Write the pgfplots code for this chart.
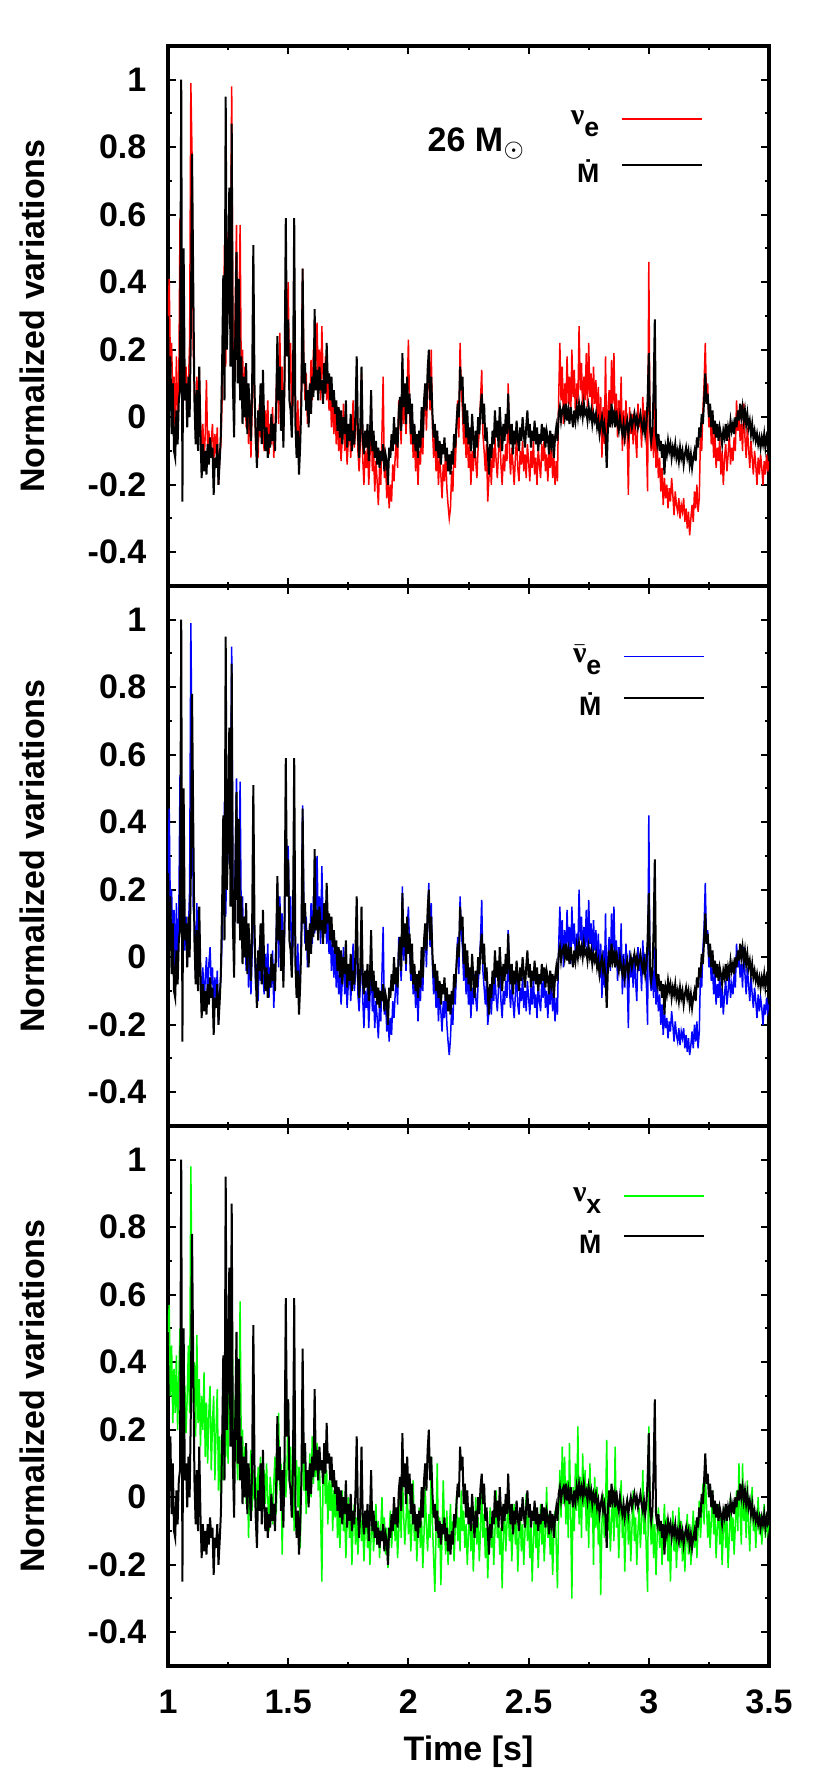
\documentclass[border=0pt]{standalone}
\usepackage{pgfplots}
\usepackage{pgfplotstable}
\pgfplotsset{compat=1.18}
\usepackage{fontspec}
\setmainfont{Liberation Sans}
\newfontfamily\nufont{Liberation Serif}

% mass accretion rate (same curve in all three panels)
\pgfplotstableread[row sep=\\]{t y\\
1.000 0.15\\ 1.005 0.05\\ 1.010 0.18\\ 1.015 -0.05\\ 1.020 0.10\\ 1.025 -0.10\\ 1.030 -0.12\\ 1.035 0.02\\ 1.040 -0.08\\ 1.045 0.05\\
1.050 0.08\\ 1.055 1.00\\ 1.060 -0.25\\ 1.065 0.50\\ 1.070 0.05\\ 1.075 0.10\\ 1.080 -0.03\\ 1.085 0.12\\ 1.090 0.00\\ 1.095 0.25\\
1.100 0.78\\ 1.105 0.40\\ 1.110 0.05\\ 1.115 -0.08\\ 1.120 0.08\\ 1.125 -0.10\\ 1.130 0.15\\ 1.135 -0.05\\ 1.140 -0.18\\ 1.145 -0.08\\
1.150 -0.16\\ 1.155 -0.10\\ 1.160 -0.17\\ 1.165 -0.08\\ 1.170 -0.14\\ 1.175 -0.06\\ 1.180 -0.12\\ 1.185 -0.09\\ 1.190 -0.23\\ 1.195 -0.12\\
1.200 -0.15\\ 1.205 -0.08\\ 1.210 -0.20\\ 1.215 -0.13\\ 1.220 -0.05\\ 1.225 0.15\\ 1.230 0.42\\ 1.235 0.05\\ 1.240 0.95\\ 1.245 0.20\\
1.250 0.35\\ 1.255 0.68\\ 1.260 0.15\\ 1.265 0.87\\ 1.270 0.10\\ 1.275 -0.06\\ 1.280 0.25\\ 1.285 0.49\\ 1.290 0.10\\ 1.295 0.41\\
1.300 0.05\\ 1.305 0.18\\ 1.310 -0.02\\ 1.315 0.12\\ 1.320 0.00\\ 1.325 0.16\\ 1.330 -0.05\\ 1.335 0.10\\ 1.340 0.02\\ 1.345 -0.07\\
1.350 0.09\\ 1.355 0.51\\ 1.360 0.08\\ 1.365 -0.06\\ 1.370 -0.15\\ 1.375 0.02\\ 1.380 -0.04\\ 1.385 0.10\\ 1.390 -0.08\\ 1.395 0.14\\
1.400 -0.02\\ 1.405 -0.10\\ 1.410 -0.03\\ 1.415 -0.12\\ 1.420 -0.05\\ 1.425 -0.09\\ 1.430 0.01\\ 1.435 -0.07\\ 1.440 -0.02\\ 1.445 -0.10\\
1.450 0.03\\ 1.455 0.24\\ 1.460 0.05\\ 1.465 0.15\\ 1.470 -0.04\\ 1.475 0.08\\ 1.480 -0.09\\ 1.485 0.12\\ 1.490 0.59\\ 1.495 0.18\\
1.500 0.29\\ 1.505 0.05\\ 1.510 0.02\\ 1.515 -0.06\\ 1.520 0.10\\ 1.525 0.59\\ 1.530 -0.02\\ 1.535 -0.12\\ 1.540 -0.04\\ 1.545 -0.17\\
1.550 -0.08\\ 1.555 0.05\\ 1.560 0.44\\ 1.565 0.10\\ 1.570 0.16\\ 1.575 0.02\\ 1.580 0.08\\ 1.585 -0.03\\ 1.590 0.10\\ 1.595 0.01\\
1.600 0.12\\ 1.605 0.06\\ 1.610 0.32\\ 1.615 0.08\\ 1.620 0.14\\ 1.625 0.05\\ 1.630 0.15\\ 1.635 0.08\\ 1.640 0.11\\ 1.645 0.04\\
1.650 0.16\\ 1.655 0.07\\ 1.660 0.22\\ 1.665 0.10\\ 1.670 0.13\\ 1.675 0.05\\ 1.680 0.12\\ 1.685 0.03\\ 1.690 0.08\\ 1.695 0.01\\
1.700 0.05\\ 1.705 -0.04\\ 1.710 0.03\\ 1.715 -0.06\\ 1.720 0.02\\ 1.725 -0.08\\ 1.730 0.00\\ 1.735 -0.05\\ 1.740 0.05\\ 1.745 -0.09\\
1.750 -0.02\\ 1.755 -0.07\\ 1.760 0.01\\ 1.765 -0.10\\ 1.770 -0.04\\ 1.775 -0.08\\ 1.780 0.02\\ 1.785 0.18\\ 1.790 -0.05\\ 1.795 -0.12\\
1.800 -0.03\\ 1.805 0.15\\ 1.810 -0.06\\ 1.815 -0.11\\ 1.820 -0.04\\ 1.825 -0.09\\ 1.830 -0.02\\ 1.835 -0.13\\ 1.840 -0.06\\ 1.845 0.08\\
1.850 -0.10\\ 1.855 -0.04\\ 1.860 -0.12\\ 1.865 -0.07\\ 1.870 -0.14\\ 1.875 -0.09\\ 1.880 -0.15\\ 1.885 -0.10\\ 1.890 -0.13\\ 1.895 -0.08\\
1.900 -0.16\\ 1.905 -0.11\\ 1.910 -0.13\\ 1.915 -0.20\\ 1.920 -0.09\\ 1.925 -0.12\\ 1.930 -0.05\\ 1.935 -0.10\\ 1.940 0.00\\ 1.945 -0.08\\
1.950 -0.03\\ 1.955 -0.09\\ 1.960 0.02\\ 1.965 0.06\\ 1.970 -0.04\\ 1.975 0.19\\ 1.980 0.03\\ 1.985 0.10\\ 1.990 -0.02\\ 1.995 0.12\\
2.000 0.01\\ 2.005 0.07\\ 2.010 -0.05\\ 2.015 0.04\\ 2.020 -0.08\\ 2.025 -0.02\\ 2.030 -0.10\\ 2.035 -0.05\\ 2.040 -0.12\\ 2.045 -0.04\\
2.050 -0.09\\ 2.055 0.03\\ 2.060 -0.06\\ 2.065 0.05\\ 2.070 0.10\\ 2.075 0.02\\ 2.080 0.14\\ 2.085 0.20\\ 2.090 0.05\\ 2.095 0.12\\
2.100 0.01\\ 2.105 -0.06\\ 2.110 -0.02\\ 2.115 -0.10\\ 2.120 -0.04\\ 2.125 -0.12\\ 2.130 -0.07\\ 2.135 -0.14\\ 2.140 -0.08\\ 2.145 -0.11\\
2.150 -0.06\\ 2.155 -0.13\\ 2.160 -0.09\\ 2.165 -0.16\\ 2.170 -0.11\\ 2.175 -0.17\\ 2.180 -0.10\\ 2.185 -0.14\\ 2.190 -0.05\\ 2.195 -0.09\\
2.200 -0.02\\ 2.205 0.04\\ 2.210 0.00\\ 2.215 0.15\\ 2.220 0.08\\ 2.225 0.12\\ 2.230 -0.02\\ 2.235 0.04\\ 2.240 -0.06\\ 2.245 0.02\\
2.250 -0.08\\ 2.255 -0.03\\ 2.260 -0.10\\ 2.265 0.01\\ 2.270 -0.06\\ 2.275 -0.12\\ 2.280 -0.04\\ 2.285 -0.09\\ 2.290 0.00\\ 2.295 -0.05\\
2.300 0.03\\ 2.305 0.07\\ 2.310 -0.02\\ 2.315 0.04\\ 2.320 -0.07\\ 2.325 -0.03\\ 2.330 -0.10\\ 2.335 -0.17\\ 2.340 -0.08\\ 2.345 -0.12\\
2.350 -0.04\\ 2.355 -0.08\\ 2.360 0.02\\ 2.365 -0.06\\ 2.370 -0.01\\ 2.375 -0.09\\ 2.380 0.03\\ 2.385 -0.04\\ 2.390 -0.10\\ 2.395 -0.02\\
2.400 -0.07\\ 2.405 0.01\\ 2.410 -0.05\\ 2.415 0.07\\ 2.420 -0.03\\ 2.425 -0.08\\ 2.430 -0.02\\ 2.435 -0.11\\ 2.440 -0.04\\ 2.445 -0.08\\
2.450 -0.01\\ 2.455 -0.06\\ 2.460 -0.10\\ 2.465 -0.03\\ 2.470 -0.07\\ 2.475 0.00\\ 2.480 -0.05\\ 2.485 -0.09\\ 2.490 -0.03\\ 2.495 0.02\\
2.500 -0.06\\ 2.505 -0.02\\ 2.510 -0.09\\ 2.515 -0.04\\ 2.520 -0.07\\ 2.525 -0.01\\ 2.530 -0.08\\ 2.535 -0.03\\ 2.540 -0.10\\ 2.545 -0.05\\
2.550 -0.08\\ 2.555 -0.02\\ 2.560 -0.07\\ 2.565 -0.03\\ 2.570 -0.09\\ 2.575 -0.04\\ 2.580 -0.06\\ 2.585 -0.11\\ 2.590 -0.04\\ 2.595 -0.08\\
2.600 -0.05\\ 2.605 -0.12\\ 2.610 -0.06\\ 2.615 -0.03\\ 2.620 -0.07\\ 2.625 0.01\\ 2.630 0.03\\ 2.635 -0.01\\ 2.640 0.02\\ 2.645 0.03\\
2.650 0.00\\ 2.655 0.04\\ 2.660 -0.01\\ 2.665 0.02\\ 2.670 -0.02\\ 2.675 0.03\\ 2.680 0.00\\ 2.685 -0.03\\ 2.690 0.02\\ 2.695 -0.01\\
2.700 0.03\\ 2.705 0.00\\ 2.710 0.04\\ 2.715 0.01\\ 2.720 0.03\\ 2.725 0.00\\ 2.730 0.04\\ 2.735 0.01\\ 2.740 0.02\\ 2.745 -0.01\\
2.750 0.03\\ 2.755 0.00\\ 2.760 0.02\\ 2.765 -0.02\\ 2.770 0.01\\ 2.775 -0.01\\ 2.780 0.01\\ 2.785 -0.03\\ 2.790 -0.01\\ 2.795 -0.05\\
2.800 -0.02\\ 2.805 0.00\\ 2.810 -0.04\\ 2.815 -0.02\\ 2.820 -0.06\\ 2.825 -0.15\\ 2.830 -0.03\\ 2.835 0.02\\ 2.840 -0.03\\ 2.845 0.04\\
2.850 -0.01\\ 2.855 0.01\\ 2.860 -0.03\\ 2.865 0.02\\ 2.870 -0.02\\ 2.875 -0.04\\ 2.880 0.00\\ 2.885 -0.03\\ 2.890 -0.05\\ 2.895 -0.02\\
2.900 -0.06\\ 2.905 -0.03\\ 2.910 -0.01\\ 2.915 -0.05\\ 2.920 -0.02\\ 2.925 0.00\\ 2.930 -0.03\\ 2.935 -0.01\\ 2.940 0.01\\ 2.945 -0.02\\
2.950 0.00\\ 2.955 -0.03\\ 2.960 -0.01\\ 2.965 0.01\\ 2.970 -0.02\\ 2.975 -0.04\\ 2.980 -0.01\\ 2.985 -0.05\\ 2.990 -0.02\\ 2.995 0.05\\
3.000 0.19\\ 3.005 -0.03\\ 3.010 -0.07\\ 3.015 -0.04\\ 3.020 0.08\\ 3.025 0.29\\ 3.030 -0.05\\ 3.035 -0.08\\ 3.040 -0.05\\ 3.045 -0.10\\
3.050 -0.07\\ 3.055 -0.12\\ 3.060 -0.08\\ 3.065 -0.17\\ 3.070 -0.09\\ 3.075 -0.11\\ 3.080 -0.07\\ 3.085 -0.10\\ 3.090 -0.08\\ 3.095 -0.12\\
3.100 -0.09\\ 3.105 -0.11\\ 3.110 -0.08\\ 3.115 -0.12\\ 3.120 -0.10\\ 3.125 -0.13\\ 3.130 -0.09\\ 3.135 -0.12\\ 3.140 -0.10\\ 3.145 -0.14\\
3.150 -0.11\\ 3.155 -0.09\\ 3.160 -0.12\\ 3.165 -0.10\\ 3.170 -0.14\\ 3.175 -0.11\\ 3.180 -0.15\\ 3.185 -0.12\\ 3.190 -0.10\\ 3.195 -0.13\\
3.200 -0.06\\ 3.205 -0.09\\ 3.210 -0.03\\ 3.215 -0.06\\ 3.220 0.01\\ 3.225 -0.02\\ 3.230 0.05\\ 3.235 0.13\\ 3.240 0.04\\ 3.245 0.07\\
3.250 0.00\\ 3.255 0.04\\ 3.260 -0.03\\ 3.265 0.02\\ 3.270 -0.05\\ 3.275 -0.01\\ 3.280 -0.06\\ 3.285 -0.02\\ 3.290 -0.07\\ 3.295 -0.03\\
3.300 -0.05\\ 3.305 -0.08\\ 3.310 -0.04\\ 3.315 -0.06\\ 3.320 -0.02\\ 3.325 -0.07\\ 3.330 -0.03\\ 3.335 -0.05\\ 3.340 -0.01\\ 3.345 -0.04\\
3.350 -0.02\\ 3.355 -0.05\\ 3.360 0.00\\ 3.365 -0.03\\ 3.370 0.02\\ 3.375 -0.01\\ 3.380 0.04\\ 3.385 0.00\\ 3.390 0.03\\ 3.395 -0.01\\
3.400 0.02\\ 3.405 -0.02\\ 3.410 0.01\\ 3.415 -0.03\\ 3.420 -0.01\\ 3.425 -0.05\\ 3.430 -0.02\\ 3.435 -0.06\\ 3.440 -0.04\\ 3.445 -0.07\\
3.450 -0.05\\ 3.455 -0.08\\ 3.460 -0.06\\ 3.465 -0.09\\ 3.470 -0.06\\ 3.475 -0.08\\ 3.480 -0.05\\ 3.485 -0.09\\ 3.490 -0.06\\ 3.495 -0.08\\
3.500 -0.07\\
}\mdot

% electron neutrinos
\pgfplotstableread[row sep=\\]{t y\\
1.000 0.30\\ 1.005 0.41\\ 1.010 0.15\\ 1.015 0.22\\ 1.020 0.05\\ 1.025 0.12\\ 1.030 -0.05\\ 1.035 0.18\\ 1.040 0.02\\ 1.045 0.10\\
1.050 0.59\\ 1.055 0.25\\ 1.060 0.45\\ 1.065 0.20\\ 1.070 0.05\\ 1.075 0.15\\ 1.080 0.00\\ 1.085 0.10\\ 1.090 0.22\\ 1.095 0.99\\
1.100 0.78\\ 1.105 0.20\\ 1.110 0.08\\ 1.115 -0.05\\ 1.120 0.12\\ 1.125 0.03\\ 1.130 0.14\\ 1.135 -0.02\\ 1.140 -0.10\\ 1.145 -0.02\\
1.150 -0.14\\ 1.155 -0.05\\ 1.160 0.11\\ 1.165 -0.10\\ 1.170 -0.04\\ 1.175 -0.12\\ 1.180 -0.07\\ 1.185 -0.02\\ 1.190 -0.14\\ 1.195 -0.05\\
1.200 -0.11\\ 1.205 -0.03\\ 1.210 -0.20\\ 1.215 -0.12\\ 1.220 -0.08\\ 1.225 0.05\\ 1.230 0.20\\ 1.235 0.51\\ 1.240 0.15\\ 1.245 0.35\\
1.250 0.55\\ 1.255 0.30\\ 1.260 0.45\\ 1.265 0.98\\ 1.270 0.20\\ 1.275 0.08\\ 1.280 0.35\\ 1.285 0.57\\ 1.290 0.12\\ 1.295 0.30\\
1.300 0.57\\ 1.305 0.10\\ 1.310 0.20\\ 1.315 0.02\\ 1.320 0.15\\ 1.325 -0.03\\ 1.330 0.10\\ 1.335 -0.08\\ 1.340 0.05\\ 1.345 -0.12\\
1.350 0.02\\ 1.355 0.27\\ 1.360 0.05\\ 1.365 -0.08\\ 1.370 -0.03\\ 1.375 -0.12\\ 1.380 0.04\\ 1.385 -0.06\\ 1.390 0.07\\ 1.395 -0.04\\
1.400 -0.10\\ 1.405 0.02\\ 1.410 -0.07\\ 1.415 0.05\\ 1.420 -0.11\\ 1.425 -0.02\\ 1.430 -0.08\\ 1.435 0.03\\ 1.440 -0.12\\ 1.445 -0.04\\
1.450 0.06\\ 1.455 0.20\\ 1.460 -0.02\\ 1.465 0.25\\ 1.470 0.08\\ 1.475 0.15\\ 1.480 -0.05\\ 1.485 0.10\\ 1.490 0.40\\ 1.495 0.28\\
1.500 0.40\\ 1.505 0.10\\ 1.510 0.22\\ 1.515 -0.04\\ 1.520 0.06\\ 1.525 0.22\\ 1.530 0.02\\ 1.535 -0.08\\ 1.540 0.05\\ 1.545 -0.12\\
1.550 -0.03\\ 1.555 0.10\\ 1.560 0.44\\ 1.565 0.15\\ 1.570 0.05\\ 1.575 0.13\\ 1.580 -0.02\\ 1.585 0.08\\ 1.590 0.02\\ 1.595 0.17\\
1.600 0.05\\ 1.605 0.20\\ 1.610 0.08\\ 1.615 0.15\\ 1.620 0.28\\ 1.625 0.10\\ 1.630 0.20\\ 1.635 0.05\\ 1.640 0.27\\ 1.645 0.12\\
1.650 0.08\\ 1.655 0.18\\ 1.660 0.05\\ 1.665 0.12\\ 1.670 0.02\\ 1.675 0.09\\ 1.680 -0.03\\ 1.685 0.06\\ 1.690 -0.05\\ 1.695 0.03\\
1.700 -0.08\\ 1.705 0.00\\ 1.710 -0.10\\ 1.715 -0.04\\ 1.720 -0.13\\ 1.725 -0.06\\ 1.730 0.04\\ 1.735 -0.10\\ 1.740 -0.03\\ 1.745 -0.14\\
1.750 -0.07\\ 1.755 -0.02\\ 1.760 -0.12\\ 1.765 -0.05\\ 1.770 0.05\\ 1.775 -0.09\\ 1.780 -0.04\\ 1.785 0.12\\ 1.790 -0.10\\ 1.795 -0.16\\
1.800 -0.08\\ 1.805 0.13\\ 1.810 -0.12\\ 1.815 -0.20\\ 1.820 -0.10\\ 1.825 -0.15\\ 1.830 -0.08\\ 1.835 -0.20\\ 1.840 -0.12\\ 1.845 0.04\\
1.850 -0.16\\ 1.855 -0.10\\ 1.860 -0.22\\ 1.865 -0.13\\ 1.870 -0.19\\ 1.875 -0.26\\ 1.880 -0.15\\ 1.885 -0.20\\ 1.890 -0.05\\ 1.895 0.12\\
1.900 -0.18\\ 1.905 -0.13\\ 1.910 -0.24\\ 1.915 -0.17\\ 1.920 -0.27\\ 1.925 -0.20\\ 1.930 -0.25\\ 1.935 -0.14\\ 1.940 -0.19\\ 1.945 -0.12\\
1.950 -0.06\\ 1.955 -0.15\\ 1.960 0.05\\ 1.965 0.00\\ 1.970 -0.08\\ 1.975 0.13\\ 1.980 -0.02\\ 1.985 0.08\\ 1.990 -0.05\\ 1.995 0.07\\
2.000 0.23\\ 2.005 0.02\\ 2.010 -0.08\\ 2.015 -0.02\\ 2.020 -0.12\\ 2.025 -0.05\\ 2.030 -0.16\\ 2.035 -0.08\\ 2.040 -0.20\\ 2.045 -0.10\\
2.050 -0.14\\ 2.055 -0.03\\ 2.060 -0.11\\ 2.065 0.02\\ 2.070 0.08\\ 2.075 -0.04\\ 2.080 0.10\\ 2.085 0.15\\ 2.090 0.02\\ 2.095 0.20\\
2.100 -0.03\\ 2.105 -0.12\\ 2.110 -0.06\\ 2.115 -0.16\\ 2.120 -0.09\\ 2.125 -0.20\\ 2.130 -0.12\\ 2.135 -0.17\\ 2.140 -0.24\\ 2.145 -0.14\\
2.150 -0.19\\ 2.155 -0.10\\ 2.160 -0.21\\ 2.165 -0.26\\ 2.170 -0.30\\ 2.175 -0.27\\ 2.180 -0.16\\ 2.185 -0.22\\ 2.190 -0.08\\ 2.195 -0.15\\
2.200 -0.04\\ 2.205 0.05\\ 2.210 -0.06\\ 2.215 0.22\\ 2.220 0.08\\ 2.225 0.02\\ 2.230 -0.08\\ 2.235 -0.02\\ 2.240 -0.12\\ 2.245 -0.05\\
2.250 -0.15\\ 2.255 -0.08\\ 2.260 -0.20\\ 2.265 -0.10\\ 2.270 -0.16\\ 2.275 -0.06\\ 2.280 -0.13\\ 2.285 -0.18\\ 2.290 -0.09\\ 2.295 -0.04\\
2.300 0.05\\ 2.305 0.14\\ 2.310 -0.05\\ 2.315 -0.10\\ 2.320 -0.16\\ 2.325 -0.08\\ 2.330 -0.25\\ 2.335 -0.18\\ 2.340 -0.12\\ 2.345 -0.20\\
2.350 -0.09\\ 2.355 -0.15\\ 2.360 -0.06\\ 2.365 -0.13\\ 2.370 -0.18\\ 2.375 -0.10\\ 2.380 -0.04\\ 2.385 -0.14\\ 2.390 -0.20\\ 2.395 -0.11\\
2.400 -0.16\\ 2.405 -0.08\\ 2.410 -0.13\\ 2.415 0.10\\ 2.420 -0.10\\ 2.425 -0.17\\ 2.430 -0.09\\ 2.435 -0.14\\ 2.440 -0.20\\ 2.445 -0.12\\
2.450 -0.06\\ 2.455 -0.15\\ 2.460 -0.19\\ 2.465 -0.10\\ 2.470 -0.14\\ 2.475 -0.07\\ 2.480 -0.16\\ 2.485 -0.11\\ 2.490 -0.18\\ 2.495 -0.08\\
2.500 -0.13\\ 2.505 -0.19\\ 2.510 -0.10\\ 2.515 -0.15\\ 2.520 -0.07\\ 2.525 -0.17\\ 2.530 -0.12\\ 2.535 -0.20\\ 2.540 -0.09\\ 2.545 -0.14\\
2.550 -0.18\\ 2.555 -0.08\\ 2.560 -0.13\\ 2.565 -0.06\\ 2.570 -0.16\\ 2.575 -0.11\\ 2.580 -0.19\\ 2.585 -0.10\\ 2.590 -0.15\\ 2.595 -0.07\\
2.600 -0.18\\ 2.605 -0.12\\ 2.610 -0.20\\ 2.615 -0.13\\ 2.620 -0.19\\ 2.625 0.05\\ 2.630 0.22\\ 2.635 0.05\\ 2.640 0.15\\ 2.645 -0.02\\
2.650 0.10\\ 2.655 0.02\\ 2.660 0.18\\ 2.665 0.04\\ 2.670 0.12\\ 2.675 -0.01\\ 2.680 0.20\\ 2.685 0.06\\ 2.690 0.14\\ 2.695 0.00\\
2.700 0.10\\ 2.705 0.04\\ 2.710 0.27\\ 2.715 0.08\\ 2.720 0.16\\ 2.725 0.02\\ 2.730 0.12\\ 2.735 0.05\\ 2.740 0.19\\ 2.745 0.03\\
2.750 0.22\\ 2.755 0.06\\ 2.760 0.13\\ 2.765 0.00\\ 2.770 0.15\\ 2.775 0.04\\ 2.780 0.11\\ 2.785 -0.02\\ 2.790 0.09\\ 2.795 -0.05\\
2.800 0.06\\ 2.805 -0.12\\ 2.810 0.03\\ 2.815 -0.08\\ 2.820 0.18\\ 2.825 -0.10\\ 2.830 0.02\\ 2.835 0.08\\ 2.840 -0.03\\ 2.845 0.17\\
2.850 0.04\\ 2.855 0.19\\ 2.860 -0.02\\ 2.865 0.07\\ 2.870 -0.06\\ 2.875 0.05\\ 2.880 -0.03\\ 2.885 0.12\\ 2.890 -0.10\\ 2.895 0.02\\
2.900 -0.08\\ 2.905 0.05\\ 2.910 -0.04\\ 2.915 -0.23\\ 2.920 0.03\\ 2.925 -0.05\\ 2.930 0.01\\ 2.935 -0.08\\ 2.940 0.02\\ 2.945 -0.06\\
2.950 -0.12\\ 2.955 0.04\\ 2.960 -0.03\\ 2.965 0.00\\ 2.970 -0.09\\ 2.975 0.06\\ 2.980 -0.04\\ 2.985 0.02\\ 2.990 -0.07\\ 2.995 -0.22\\
3.000 0.46\\ 3.005 -0.05\\ 3.010 -0.10\\ 3.015 -0.03\\ 3.020 -0.12\\ 3.025 0.05\\ 3.030 -0.15\\ 3.035 -0.08\\ 3.040 -0.18\\ 3.045 -0.12\\
3.050 -0.22\\ 3.055 -0.15\\ 3.060 -0.26\\ 3.065 -0.18\\ 3.070 -0.24\\ 3.075 -0.20\\ 3.080 -0.27\\ 3.085 -0.21\\ 3.090 -0.25\\ 3.095 -0.18\\
3.100 -0.23\\ 3.105 -0.29\\ 3.110 -0.22\\ 3.115 -0.26\\ 3.120 -0.28\\ 3.125 -0.24\\ 3.130 -0.30\\ 3.135 -0.26\\ 3.140 -0.28\\ 3.145 -0.24\\
3.150 -0.31\\ 3.155 -0.27\\ 3.160 -0.33\\ 3.165 -0.28\\ 3.170 -0.35\\ 3.175 -0.30\\ 3.180 -0.26\\ 3.185 -0.31\\ 3.190 -0.22\\ 3.195 -0.27\\
3.200 -0.20\\ 3.205 -0.28\\ 3.210 -0.24\\ 3.215 -0.05\\ 3.220 -0.10\\ 3.225 0.02\\ 3.230 0.10\\ 3.235 0.22\\ 3.240 0.05\\ 3.245 0.10\\
3.250 -0.03\\ 3.255 0.02\\ 3.260 -0.08\\ 3.265 -0.03\\ 3.270 -0.12\\ 3.275 -0.05\\ 3.280 -0.15\\ 3.285 -0.09\\ 3.290 -0.13\\ 3.295 -0.06\\
3.300 -0.17\\ 3.305 -0.10\\ 3.310 -0.20\\ 3.315 -0.12\\ 3.320 -0.08\\ 3.325 -0.16\\ 3.330 -0.11\\ 3.335 -0.05\\ 3.340 -0.14\\ 3.345 -0.09\\
3.350 -0.13\\ 3.355 -0.06\\ 3.360 -0.10\\ 3.365 0.05\\ 3.370 -0.04\\ 3.375 0.02\\ 3.380 -0.07\\ 3.385 -0.02\\ 3.390 -0.10\\ 3.395 0.04\\
3.400 -0.06\\ 3.405 -0.12\\ 3.410 -0.03\\ 3.415 -0.09\\ 3.420 -0.15\\ 3.425 -0.07\\ 3.430 -0.12\\ 3.435 -0.17\\ 3.440 -0.10\\ 3.445 -0.14\\
3.450 -0.20\\ 3.455 -0.12\\ 3.460 -0.17\\ 3.465 -0.11\\ 3.470 -0.15\\ 3.475 -0.20\\ 3.480 -0.13\\ 3.485 -0.17\\ 3.490 -0.11\\ 3.495 -0.16\\
3.500 -0.13\\
}\nue

% electron antineutrinos
\pgfplotstableread[row sep=\\]{t y\\
1.000 0.25\\ 1.005 0.44\\ 1.010 0.12\\ 1.015 0.20\\ 1.020 0.02\\ 1.025 0.14\\ 1.030 -0.06\\ 1.035 0.16\\ 1.040 0.00\\ 1.045 0.12\\
1.050 0.54\\ 1.055 0.20\\ 1.060 0.35\\ 1.065 0.18\\ 1.070 0.02\\ 1.075 0.12\\ 1.080 -0.02\\ 1.085 0.08\\ 1.090 0.20\\ 1.095 0.99\\
1.100 0.60\\ 1.105 0.15\\ 1.110 0.10\\ 1.115 -0.06\\ 1.120 0.16\\ 1.125 0.00\\ 1.130 0.10\\ 1.135 -0.04\\ 1.140 -0.12\\ 1.145 -0.03\\
1.150 -0.15\\ 1.155 -0.06\\ 1.160 0.00\\ 1.165 -0.12\\ 1.170 -0.02\\ 1.175 0.03\\ 1.180 -0.08\\ 1.185 -0.03\\ 1.190 -0.15\\ 1.195 -0.06\\
1.200 -0.12\\ 1.205 -0.04\\ 1.210 -0.19\\ 1.215 -0.11\\ 1.220 -0.06\\ 1.225 0.06\\ 1.230 0.18\\ 1.235 0.46\\ 1.240 0.12\\ 1.245 0.30\\
1.250 0.45\\ 1.255 0.28\\ 1.260 0.40\\ 1.265 0.92\\ 1.270 0.18\\ 1.275 0.06\\ 1.280 0.30\\ 1.285 0.53\\ 1.290 0.10\\ 1.295 0.25\\
1.300 0.52\\ 1.305 0.08\\ 1.310 0.18\\ 1.315 0.00\\ 1.320 0.12\\ 1.325 -0.04\\ 1.330 0.08\\ 1.335 -0.09\\ 1.340 0.04\\ 1.345 -0.11\\
1.350 0.01\\ 1.355 0.25\\ 1.360 0.03\\ 1.365 -0.09\\ 1.370 -0.02\\ 1.375 -0.13\\ 1.380 0.03\\ 1.385 -0.07\\ 1.390 0.06\\ 1.395 -0.05\\
1.400 -0.11\\ 1.405 0.01\\ 1.410 -0.08\\ 1.415 0.04\\ 1.420 -0.12\\ 1.425 -0.03\\ 1.430 -0.09\\ 1.435 0.02\\ 1.440 -0.15\\ 1.445 -0.05\\
1.450 0.05\\ 1.455 0.22\\ 1.460 -0.03\\ 1.465 0.18\\ 1.470 0.06\\ 1.475 0.13\\ 1.480 -0.06\\ 1.485 0.08\\ 1.490 0.39\\ 1.495 0.25\\
1.500 0.33\\ 1.505 0.08\\ 1.510 0.18\\ 1.515 -0.05\\ 1.520 0.05\\ 1.525 0.20\\ 1.530 0.01\\ 1.535 -0.09\\ 1.540 0.04\\ 1.545 -0.13\\
1.550 -0.04\\ 1.555 0.08\\ 1.560 0.45\\ 1.565 0.14\\ 1.570 0.04\\ 1.575 0.12\\ 1.580 -0.03\\ 1.585 0.07\\ 1.590 0.01\\ 1.595 0.16\\
1.600 0.04\\ 1.605 0.18\\ 1.610 0.07\\ 1.615 0.13\\ 1.620 0.30\\ 1.625 0.09\\ 1.630 0.18\\ 1.635 0.04\\ 1.640 0.27\\ 1.645 0.10\\
1.650 0.07\\ 1.655 0.16\\ 1.660 0.04\\ 1.665 0.11\\ 1.670 0.01\\ 1.675 0.08\\ 1.680 -0.04\\ 1.685 0.05\\ 1.690 -0.06\\ 1.695 0.02\\
1.700 -0.09\\ 1.705 -0.01\\ 1.710 -0.11\\ 1.715 -0.05\\ 1.720 -0.14\\ 1.725 -0.07\\ 1.730 0.03\\ 1.735 -0.11\\ 1.740 -0.04\\ 1.745 -0.15\\
1.750 -0.08\\ 1.755 -0.03\\ 1.760 -0.13\\ 1.765 -0.06\\ 1.770 0.04\\ 1.775 -0.10\\ 1.780 -0.05\\ 1.785 0.15\\ 1.790 -0.11\\ 1.795 -0.16\\
1.800 -0.08\\ 1.805 0.10\\ 1.810 -0.12\\ 1.815 -0.21\\ 1.820 -0.10\\ 1.825 -0.15\\ 1.830 -0.08\\ 1.835 -0.21\\ 1.840 -0.12\\ 1.845 0.03\\
1.850 -0.16\\ 1.855 -0.10\\ 1.860 -0.21\\ 1.865 -0.13\\ 1.870 -0.18\\ 1.875 -0.24\\ 1.880 -0.14\\ 1.885 -0.19\\ 1.890 -0.05\\ 1.895 0.09\\
1.900 -0.17\\ 1.905 -0.12\\ 1.910 -0.22\\ 1.915 -0.16\\ 1.920 -0.25\\ 1.925 -0.18\\ 1.930 -0.23\\ 1.935 -0.13\\ 1.940 -0.18\\ 1.945 -0.11\\
1.950 -0.05\\ 1.955 -0.14\\ 1.960 0.06\\ 1.965 0.01\\ 1.970 -0.07\\ 1.975 0.21\\ 1.980 -0.01\\ 1.985 0.09\\ 1.990 -0.04\\ 1.995 0.08\\
2.000 0.15\\ 2.005 0.03\\ 2.010 -0.07\\ 2.015 -0.01\\ 2.020 -0.11\\ 2.025 -0.04\\ 2.030 -0.15\\ 2.035 -0.07\\ 2.040 -0.19\\ 2.045 -0.09\\
2.050 -0.13\\ 2.055 -0.02\\ 2.060 -0.10\\ 2.065 0.03\\ 2.070 0.09\\ 2.075 -0.03\\ 2.080 0.11\\ 2.085 0.22\\ 2.090 0.03\\ 2.095 0.16\\
2.100 -0.02\\ 2.105 -0.11\\ 2.110 -0.05\\ 2.115 -0.15\\ 2.120 -0.08\\ 2.125 -0.19\\ 2.130 -0.11\\ 2.135 -0.16\\ 2.140 -0.22\\ 2.145 -0.13\\
2.150 -0.18\\ 2.155 -0.09\\ 2.160 -0.20\\ 2.165 -0.25\\ 2.170 -0.29\\ 2.175 -0.24\\ 2.180 -0.15\\ 2.185 -0.20\\ 2.190 -0.07\\ 2.195 -0.14\\
2.200 -0.03\\ 2.205 0.06\\ 2.210 -0.05\\ 2.215 0.18\\ 2.220 0.07\\ 2.225 0.03\\ 2.230 -0.07\\ 2.235 -0.01\\ 2.240 -0.11\\ 2.245 -0.04\\
2.250 -0.14\\ 2.255 -0.07\\ 2.260 -0.18\\ 2.265 -0.09\\ 2.270 -0.14\\ 2.275 -0.05\\ 2.280 -0.12\\ 2.285 -0.16\\ 2.290 -0.08\\ 2.295 -0.03\\
2.300 0.05\\ 2.305 0.17\\ 2.310 -0.04\\ 2.315 -0.09\\ 2.320 -0.14\\ 2.325 -0.07\\ 2.330 -0.20\\ 2.335 -0.16\\ 2.340 -0.11\\ 2.345 -0.17\\
2.350 -0.08\\ 2.355 -0.13\\ 2.360 -0.05\\ 2.365 -0.12\\ 2.370 -0.16\\ 2.375 -0.09\\ 2.380 -0.03\\ 2.385 -0.13\\ 2.390 -0.18\\ 2.395 -0.10\\
2.400 -0.14\\ 2.405 -0.07\\ 2.410 -0.12\\ 2.415 0.08\\ 2.420 -0.09\\ 2.425 -0.15\\ 2.430 -0.08\\ 2.435 -0.13\\ 2.440 -0.18\\ 2.445 -0.11\\
2.450 -0.05\\ 2.455 -0.14\\ 2.460 -0.17\\ 2.465 -0.09\\ 2.470 -0.13\\ 2.475 -0.06\\ 2.480 -0.15\\ 2.485 -0.10\\ 2.490 -0.16\\ 2.495 -0.07\\
2.500 -0.12\\ 2.505 -0.17\\ 2.510 -0.09\\ 2.515 -0.14\\ 2.520 -0.06\\ 2.525 -0.15\\ 2.530 -0.11\\ 2.535 -0.18\\ 2.540 -0.08\\ 2.545 -0.13\\
2.550 -0.16\\ 2.555 -0.07\\ 2.560 -0.12\\ 2.565 -0.05\\ 2.570 -0.15\\ 2.575 -0.10\\ 2.580 -0.18\\ 2.585 -0.09\\ 2.590 -0.14\\ 2.595 -0.06\\
2.600 -0.16\\ 2.605 -0.11\\ 2.610 -0.19\\ 2.615 -0.12\\ 2.620 -0.17\\ 2.625 0.03\\ 2.630 0.15\\ 2.635 0.02\\ 2.640 0.11\\ 2.645 -0.03\\
2.650 0.08\\ 2.655 0.00\\ 2.660 0.14\\ 2.665 0.02\\ 2.670 0.09\\ 2.675 -0.02\\ 2.680 0.15\\ 2.685 0.04\\ 2.690 0.10\\ 2.695 -0.01\\
2.700 0.07\\ 2.705 0.02\\ 2.710 0.20\\ 2.715 0.05\\ 2.720 0.12\\ 2.725 0.00\\ 2.730 0.09\\ 2.735 0.03\\ 2.740 0.14\\ 2.745 0.01\\
2.750 0.17\\ 2.755 0.04\\ 2.760 0.10\\ 2.765 -0.02\\ 2.770 0.11\\ 2.775 0.02\\ 2.780 0.08\\ 2.785 -0.03\\ 2.790 0.07\\ 2.795 -0.06\\
2.800 0.04\\ 2.805 -0.12\\ 2.810 0.02\\ 2.815 -0.09\\ 2.820 0.13\\ 2.825 -0.11\\ 2.830 0.00\\ 2.835 0.06\\ 2.840 -0.04\\ 2.845 0.13\\
2.850 0.02\\ 2.855 0.15\\ 2.860 -0.03\\ 2.865 0.05\\ 2.870 -0.07\\ 2.875 0.03\\ 2.880 -0.04\\ 2.885 0.10\\ 2.890 -0.11\\ 2.895 0.01\\
2.900 -0.09\\ 2.905 0.04\\ 2.910 -0.05\\ 2.915 -0.21\\ 2.920 0.02\\ 2.925 -0.06\\ 2.930 0.00\\ 2.935 -0.09\\ 2.940 0.01\\ 2.945 -0.07\\
2.950 -0.13\\ 2.955 0.03\\ 2.960 -0.04\\ 2.965 -0.01\\ 2.970 -0.10\\ 2.975 0.05\\ 2.980 -0.05\\ 2.985 0.01\\ 2.990 -0.08\\ 2.995 -0.20\\
3.000 0.42\\ 3.005 -0.06\\ 3.010 -0.10\\ 3.015 -0.04\\ 3.020 -0.12\\ 3.025 0.03\\ 3.030 -0.14\\ 3.035 -0.08\\ 3.040 -0.16\\ 3.045 -0.11\\
3.050 -0.20\\ 3.055 -0.14\\ 3.060 -0.23\\ 3.065 -0.16\\ 3.070 -0.21\\ 3.075 -0.18\\ 3.080 -0.24\\ 3.085 -0.19\\ 3.090 -0.22\\ 3.095 -0.16\\
3.100 -0.20\\ 3.105 -0.25\\ 3.110 -0.19\\ 3.115 -0.23\\ 3.120 -0.25\\ 3.125 -0.21\\ 3.130 -0.26\\ 3.135 -0.22\\ 3.140 -0.24\\ 3.145 -0.21\\
3.150 -0.27\\ 3.155 -0.23\\ 3.160 -0.28\\ 3.165 -0.24\\ 3.170 -0.29\\ 3.175 -0.26\\ 3.180 -0.22\\ 3.185 -0.27\\ 3.190 -0.20\\ 3.195 -0.25\\
3.200 -0.19\\ 3.205 -0.27\\ 3.210 -0.22\\ 3.215 -0.04\\ 3.220 -0.09\\ 3.225 0.02\\ 3.230 0.09\\ 3.235 0.22\\ 3.240 0.04\\ 3.245 0.08\\
3.250 -0.03\\ 3.255 0.01\\ 3.260 -0.07\\ 3.265 -0.03\\ 3.270 -0.11\\ 3.275 -0.05\\ 3.280 -0.14\\ 3.285 -0.08\\ 3.290 -0.12\\ 3.295 -0.05\\
3.300 -0.15\\ 3.305 -0.09\\ 3.310 -0.17\\ 3.315 -0.11\\ 3.320 -0.07\\ 3.325 -0.14\\ 3.330 -0.10\\ 3.335 -0.04\\ 3.340 -0.12\\ 3.345 -0.08\\
3.350 -0.11\\ 3.355 -0.05\\ 3.360 -0.09\\ 3.365 0.04\\ 3.370 -0.03\\ 3.375 0.01\\ 3.380 -0.06\\ 3.385 -0.02\\ 3.390 -0.09\\ 3.395 0.03\\
3.400 -0.05\\ 3.405 -0.11\\ 3.410 -0.03\\ 3.415 -0.08\\ 3.420 -0.13\\ 3.425 -0.06\\ 3.430 -0.11\\ 3.435 -0.15\\ 3.440 -0.09\\ 3.445 -0.13\\
3.450 -0.18\\ 3.455 -0.11\\ 3.460 -0.16\\ 3.465 -0.12\\ 3.470 -0.15\\ 3.475 -0.20\\ 3.480 -0.14\\ 3.485 -0.17\\ 3.490 -0.12\\ 3.495 -0.16\\
3.500 -0.14\\
}\nuebar

% heavy-lepton neutrinos
\pgfplotstableread[row sep=\\]{t y\\
1.000 0.49\\ 1.005 0.57\\ 1.010 0.30\\ 1.015 0.45\\ 1.020 0.22\\ 1.025 0.38\\ 1.030 0.25\\ 1.035 0.42\\ 1.040 0.20\\ 1.045 0.35\\
1.050 0.50\\ 1.055 0.28\\ 1.060 0.40\\ 1.065 0.22\\ 1.070 0.33\\ 1.075 0.19\\ 1.080 0.30\\ 1.085 0.45\\ 1.090 0.25\\ 1.095 0.98\\
1.100 0.60\\ 1.105 0.28\\ 1.110 0.40\\ 1.115 0.18\\ 1.120 0.48\\ 1.125 0.22\\ 1.130 0.35\\ 1.135 0.15\\ 1.140 0.30\\ 1.145 0.20\\
1.150 0.37\\ 1.155 0.12\\ 1.160 0.28\\ 1.165 0.10\\ 1.170 0.25\\ 1.175 0.33\\ 1.180 0.08\\ 1.185 0.22\\ 1.190 0.30\\ 1.195 0.05\\
1.200 0.20\\ 1.205 0.32\\ 1.210 0.02\\ 1.215 0.18\\ 1.220 -0.02\\ 1.225 0.15\\ 1.230 0.05\\ 1.235 0.38\\ 1.240 0.12\\ 1.245 0.28\\
1.250 0.10\\ 1.255 0.45\\ 1.260 0.20\\ 1.265 0.72\\ 1.270 0.25\\ 1.275 0.10\\ 1.280 0.30\\ 1.285 0.15\\ 1.290 0.05\\ 1.295 0.25\\
1.300 0.58\\ 1.305 0.12\\ 1.310 0.20\\ 1.315 0.03\\ 1.320 0.15\\ 1.325 -0.02\\ 1.330 0.10\\ 1.335 -0.12\\ 1.340 0.05\\ 1.345 0.14\\
1.350 -0.04\\ 1.355 0.08\\ 1.360 -0.01\\ 1.365 0.06\\ 1.370 -0.06\\ 1.375 0.09\\ 1.380 0.02\\ 1.385 0.12\\ 1.390 -0.03\\ 1.395 0.05\\
1.400 0.08\\ 1.405 -0.02\\ 1.410 0.10\\ 1.415 0.00\\ 1.420 -0.10\\ 1.425 0.06\\ 1.430 0.01\\ 1.435 -0.08\\ 1.440 0.04\\ 1.445 0.12\\
1.450 -0.05\\ 1.455 0.07\\ 1.460 0.25\\ 1.465 0.02\\ 1.470 0.10\\ 1.475 -0.17\\ 1.480 0.03\\ 1.485 0.12\\ 1.490 0.00\\ 1.495 0.08\\
1.500 0.29\\ 1.505 0.05\\ 1.510 0.15\\ 1.515 -0.06\\ 1.520 0.07\\ 1.525 -0.10\\ 1.530 0.04\\ 1.535 0.11\\ 1.540 -0.03\\ 1.545 0.09\\
1.550 -0.15\\ 1.555 0.05\\ 1.560 0.31\\ 1.565 0.02\\ 1.570 0.10\\ 1.575 -0.05\\ 1.580 0.07\\ 1.585 -0.02\\ 1.590 0.13\\ 1.595 0.00\\
1.600 0.18\\ 1.605 0.04\\ 1.610 0.12\\ 1.615 0.06\\ 1.620 0.16\\ 1.625 0.02\\ 1.630 0.10\\ 1.635 -0.05\\ 1.640 -0.25\\ 1.645 0.05\\
1.650 0.12\\ 1.655 -0.02\\ 1.660 0.08\\ 1.665 -0.08\\ 1.670 0.05\\ 1.675 -0.04\\ 1.680 0.07\\ 1.685 -0.10\\ 1.690 0.02\\ 1.695 -0.06\\
1.700 0.04\\ 1.705 -0.12\\ 1.710 -0.03\\ 1.715 -0.15\\ 1.720 -0.05\\ 1.725 0.02\\ 1.730 -0.10\\ 1.735 -0.04\\ 1.740 -0.18\\ 1.745 -0.07\\
1.750 0.00\\ 1.755 -0.12\\ 1.760 -0.05\\ 1.765 -0.20\\ 1.770 -0.08\\ 1.775 -0.02\\ 1.780 -0.14\\ 1.785 -0.06\\ 1.790 -0.17\\ 1.795 -0.09\\
1.800 -0.03\\ 1.805 -0.13\\ 1.810 -0.07\\ 1.815 -0.19\\ 1.820 -0.10\\ 1.825 -0.04\\ 1.830 -0.15\\ 1.835 -0.08\\ 1.840 -0.20\\ 1.845 -0.11\\
1.850 -0.05\\ 1.855 -0.16\\ 1.860 -0.09\\ 1.865 -0.02\\ 1.870 -0.14\\ 1.875 -0.07\\ 1.880 -0.18\\ 1.885 -0.10\\ 1.890 0.00\\ 1.895 -0.12\\
1.900 -0.06\\ 1.905 -0.17\\ 1.910 -0.09\\ 1.915 -0.21\\ 1.920 -0.11\\ 1.925 -0.04\\ 1.930 -0.15\\ 1.935 -0.08\\ 1.940 -0.02\\ 1.945 -0.13\\
1.950 -0.06\\ 1.955 -0.18\\ 1.960 -0.10\\ 1.965 0.02\\ 1.970 -0.12\\ 1.975 0.08\\ 1.980 -0.05\\ 1.985 -0.14\\ 1.990 -0.07\\ 1.995 0.03\\
2.000 -0.11\\ 2.005 -0.04\\ 2.010 -0.16\\ 2.015 -0.08\\ 2.020 0.05\\ 2.025 -0.13\\ 2.030 -0.06\\ 2.035 -0.19\\ 2.040 -0.10\\ 2.045 -0.03\\
2.050 -0.15\\ 2.055 -0.07\\ 2.060 -0.21\\ 2.065 -0.11\\ 2.070 0.03\\ 2.075 -0.09\\ 2.080 -0.16\\ 2.085 -0.05\\ 2.090 -0.12\\ 2.095 0.12\\
2.100 -0.08\\ 2.105 -0.18\\ 2.110 -0.28\\ 2.115 -0.10\\ 2.120 0.10\\ 2.125 -0.15\\ 2.130 -0.06\\ 2.135 -0.26\\ 2.140 -0.12\\ 2.145 0.05\\
2.150 -0.09\\ 2.155 -0.17\\ 2.160 -0.04\\ 2.165 -0.20\\ 2.170 -0.11\\ 2.175 -0.02\\ 2.180 -0.14\\ 2.185 -0.07\\ 2.190 -0.19\\ 2.195 -0.09\\
2.200 0.00\\ 2.205 -0.13\\ 2.210 -0.06\\ 2.215 -0.16\\ 2.220 0.02\\ 2.225 -0.10\\ 2.230 -0.04\\ 2.235 -0.15\\ 2.240 -0.08\\ 2.245 -0.20\\
2.250 -0.11\\ 2.255 -0.03\\ 2.260 -0.16\\ 2.265 -0.08\\ 2.270 -0.22\\ 2.275 -0.12\\ 2.280 0.00\\ 2.285 -0.14\\ 2.290 -0.06\\ 2.295 -0.19\\
2.300 -0.10\\ 2.305 0.03\\ 2.310 -0.12\\ 2.315 -0.05\\ 2.320 -0.18\\ 2.325 -0.09\\ 2.330 -0.24\\ 2.335 -0.13\\ 2.340 -0.03\\ 2.345 -0.15\\
2.350 -0.07\\ 2.355 -0.20\\ 2.360 -0.10\\ 2.365 0.02\\ 2.370 -0.12\\ 2.375 -0.06\\ 2.380 -0.17\\ 2.385 -0.09\\ 2.390 -0.27\\ 2.395 -0.11\\
2.400 -0.04\\ 2.405 -0.16\\ 2.410 -0.08\\ 2.415 0.00\\ 2.420 -0.13\\ 2.425 -0.06\\ 2.430 -0.19\\ 2.435 -0.10\\ 2.440 -0.02\\ 2.445 -0.14\\
2.450 -0.07\\ 2.455 -0.22\\ 2.460 -0.12\\ 2.465 -0.04\\ 2.470 -0.16\\ 2.475 -0.08\\ 2.480 -0.20\\ 2.485 -0.10\\ 2.490 0.01\\ 2.495 -0.13\\
2.500 -0.06\\ 2.505 -0.18\\ 2.510 -0.09\\ 2.515 -0.25\\ 2.520 -0.12\\ 2.525 -0.03\\ 2.530 -0.15\\ 2.535 -0.07\\ 2.540 -0.21\\ 2.545 -0.11\\
2.550 -0.02\\ 2.555 -0.14\\ 2.560 -0.06\\ 2.565 -0.19\\ 2.570 -0.10\\ 2.575 0.03\\ 2.580 -0.12\\ 2.585 -0.05\\ 2.590 -0.17\\ 2.595 -0.08\\
2.600 -0.23\\ 2.605 -0.11\\ 2.610 -0.04\\ 2.615 -0.14\\ 2.620 -0.27\\ 2.625 -0.05\\ 2.630 0.08\\ 2.635 -0.06\\ 2.640 0.15\\ 2.645 -0.02\\
2.650 0.12\\ 2.655 -0.08\\ 2.660 0.05\\ 2.665 -0.12\\ 2.670 0.16\\ 2.675 -0.05\\ 2.680 -0.30\\ 2.685 0.03\\ 2.690 -0.10\\ 2.695 0.10\\
2.700 -0.04\\ 2.705 0.21\\ 2.710 -0.08\\ 2.715 0.06\\ 2.720 -0.12\\ 2.725 0.13\\ 2.730 -0.03\\ 2.735 0.08\\ 2.740 -0.10\\ 2.745 0.04\\
2.750 -0.15\\ 2.755 0.10\\ 2.760 -0.06\\ 2.765 0.02\\ 2.770 -0.20\\ 2.775 0.06\\ 2.780 -0.09\\ 2.785 0.03\\ 2.790 -0.14\\ 2.795 -0.05\\
2.800 -0.29\\ 2.805 -0.08\\ 2.810 0.01\\ 2.815 -0.12\\ 2.820 -0.04\\ 2.825 0.17\\ 2.830 -0.10\\ 2.835 -0.02\\ 2.840 -0.16\\ 2.845 -0.07\\
2.850 0.02\\ 2.855 -0.13\\ 2.860 0.15\\ 2.865 -0.09\\ 2.870 -0.03\\ 2.875 -0.18\\ 2.880 -0.06\\ 2.885 0.05\\ 2.890 -0.12\\ 2.895 -0.04\\
2.900 -0.22\\ 2.905 -0.08\\ 2.910 0.00\\ 2.915 -0.14\\ 2.920 -0.05\\ 2.925 -0.19\\ 2.930 -0.09\\ 2.935 0.02\\ 2.940 -0.13\\ 2.945 -0.06\\
2.950 -0.20\\ 2.955 -0.10\\ 2.960 -0.03\\ 2.965 -0.15\\ 2.970 -0.07\\ 2.975 0.08\\ 2.980 -0.11\\ 2.985 -0.04\\ 2.990 -0.17\\ 2.995 -0.28\\
3.000 0.21\\ 3.005 -0.06\\ 3.010 -0.14\\ 3.015 -0.04\\ 3.020 -0.18\\ 3.025 -0.08\\ 3.030 -0.23\\ 3.035 -0.11\\ 3.040 -0.03\\ 3.045 -0.15\\
3.050 -0.07\\ 3.055 -0.20\\ 3.060 -0.10\\ 3.065 -0.02\\ 3.070 -0.14\\ 3.075 -0.06\\ 3.080 -0.19\\ 3.085 -0.09\\ 3.090 -0.25\\ 3.095 -0.12\\
3.100 -0.04\\ 3.105 -0.16\\ 3.110 -0.08\\ 3.115 -0.21\\ 3.120 -0.11\\ 3.125 -0.03\\ 3.130 -0.15\\ 3.135 -0.07\\ 3.140 -0.19\\ 3.145 -0.10\\
3.150 -0.22\\ 3.155 -0.12\\ 3.160 -0.05\\ 3.165 -0.17\\ 3.170 -0.08\\ 3.175 -0.20\\ 3.180 -0.11\\ 3.185 -0.04\\ 3.190 -0.15\\ 3.195 -0.07\\
3.200 -0.18\\ 3.205 -0.09\\ 3.210 -0.01\\ 3.215 -0.12\\ 3.220 -0.05\\ 3.225 0.04\\ 3.230 -0.08\\ 3.235 0.06\\ 3.240 -0.02\\ 3.245 -0.12\\
3.250 -0.04\\ 3.255 -0.15\\ 3.260 -0.07\\ 3.265 0.02\\ 3.270 -0.11\\ 3.275 -0.05\\ 3.280 -0.18\\ 3.285 -0.09\\ 3.290 -0.02\\ 3.295 -0.14\\
3.300 -0.06\\ 3.305 -0.20\\ 3.310 -0.10\\ 3.315 -0.03\\ 3.320 -0.15\\ 3.325 -0.07\\ 3.330 -0.21\\ 3.335 -0.11\\ 3.340 0.00\\ 3.345 -0.13\\
3.350 -0.06\\ 3.355 -0.17\\ 3.360 -0.08\\ 3.365 0.02\\ 3.370 -0.10\\ 3.375 0.10\\ 3.380 -0.05\\ 3.385 -0.14\\ 3.390 0.10\\ 3.395 -0.07\\
3.400 -0.01\\ 3.405 -0.12\\ 3.410 0.05\\ 3.415 -0.08\\ 3.420 -0.16\\ 3.425 -0.04\\ 3.430 0.03\\ 3.435 -0.10\\ 3.440 -0.05\\ 3.445 -0.15\\
3.450 -0.07\\ 3.455 0.00\\ 3.460 -0.11\\ 3.465 -0.05\\ 3.470 -0.14\\ 3.475 -0.08\\ 3.480 -0.02\\ 3.485 -0.12\\ 3.490 -0.06\\ 3.495 -0.10\\
3.500 -0.07\\
}\nux

\pgfplotsset{
  panel/.style={
    scale only axis, width=180.3pt, height=162pt,
    xmin=1, xmax=3.5, ymin=-0.5, ymax=1.1,
    xtick={1,1.5,2,2.5,3,3.5}, minor x tick num=1,
    ytick={-0.4,-0.2,0,0.2,0.4,0.6,0.8,1}, minor y tick num=1,
    yticklabels={-0.4,-0.2,0,0.2,0.4,0.6,0.8,1},
    tick align=inside,
    major tick length=2.5pt, minor tick length=1.2pt,
    axis line style={line width=1.2pt},
    every tick/.style={black, line width=0.6pt},
    tick label style={font=\fontsize{10.2}{12}\selectfont\bfseries},
    yticklabel style={anchor=east, inner sep=0pt, xshift=-6.3pt},
    xticklabel style={anchor=center, inner sep=0pt, yshift=-10.8pt},
    label style={font=\fontsize{10.2}{12}\selectfont\bfseries},
    ylabel={Normalized variations},
    ylabel style={at={(axis description cs:-0.2263,0.5)}, anchor=center},
    legend plot pos=right,
    legend cell align=right,
    legend image code/.code={\draw[#1] (0pt,0pt) -- (24pt,0pt);},
    legend style={draw=none, fill=none, inner sep=0pt, outer sep=0pt,
      anchor=north east, column sep=6.5pt,
      font=\fontsize{8}{9}\selectfont\bfseries,
      nodes={inner sep=0pt, text height=11pt, text depth=0.4pt}},
  },
  nolabels/.style={xticklabels={\empty,\empty,\empty,\empty,\empty,\empty}},
}
% precomposed M with dot above (U+1E40)
\newcommand{\Mdot}{\char"1E40\relax}
\newcommand{\nuchar}{{\nufont\fontsize{9}{10}\selectfont ν}}

\begin{document}
\begin{tikzpicture}
\path[use as bounding box] (0,0) rectangle (249pt,534.6pt);

\begin{axis}[panel, nolabels, at={(50.4pt,358.8pt)}, anchor=south west,
    legend style={at={(rel axis cs:0.890,0.900)}, row sep=2.4pt}]
  \addplot[red, line width=0.45pt] table[x=t, y=y]{\nue};
  \addlegendentry{\raisebox{3.6pt}{\nuchar}e}
  \addplot[black, line width=0.6pt] table[x=t, y=y]{\mdot};
  \addlegendentry{\Mdot}
  \node[anchor=base west, font=\fontsize{10.2}{12}\selectfont\bfseries]
    at (rel axis cs:0.4126,0.8037) {26 M$_{\odot}$};
\end{axis}

\begin{axis}[panel, nolabels, at={(50.4pt,196.8pt)}, anchor=south west,
    legend style={at={(rel axis cs:0.8935,0.9043)}, row sep=1.0pt}]
  \addplot[blue, line width=0.45pt] table[x=t, y=y]{\nuebar};
  \addlegendentry{\raisebox{3.6pt}{$\bar{\mbox{\nuchar}}$}e}
  \addplot[black, line width=0.6pt] table[x=t, y=y]{\mdot};
  \addlegendentry{\Mdot}
\end{axis}

\begin{axis}[panel, at={(50.4pt,34.8pt)}, anchor=south west,
    xticklabels={1,1.5,2,2.5,3,3.5},
    xlabel={Time [s]},
    xlabel style={at={(axis description cs:0.5,-0.1593)}, anchor=center},
    legend style={at={(rel axis cs:0.8935,0.9056)}, row sep=0.6pt}]
  \addplot[green, line width=0.45pt] table[x=t, y=y]{\nux};
  \addlegendentry{\raisebox{3.6pt}{\nuchar}x}
  \addplot[black, line width=0.6pt] table[x=t, y=y]{\mdot};
  \addlegendentry{\Mdot}
\end{axis}
\end{tikzpicture}
\end{document}
